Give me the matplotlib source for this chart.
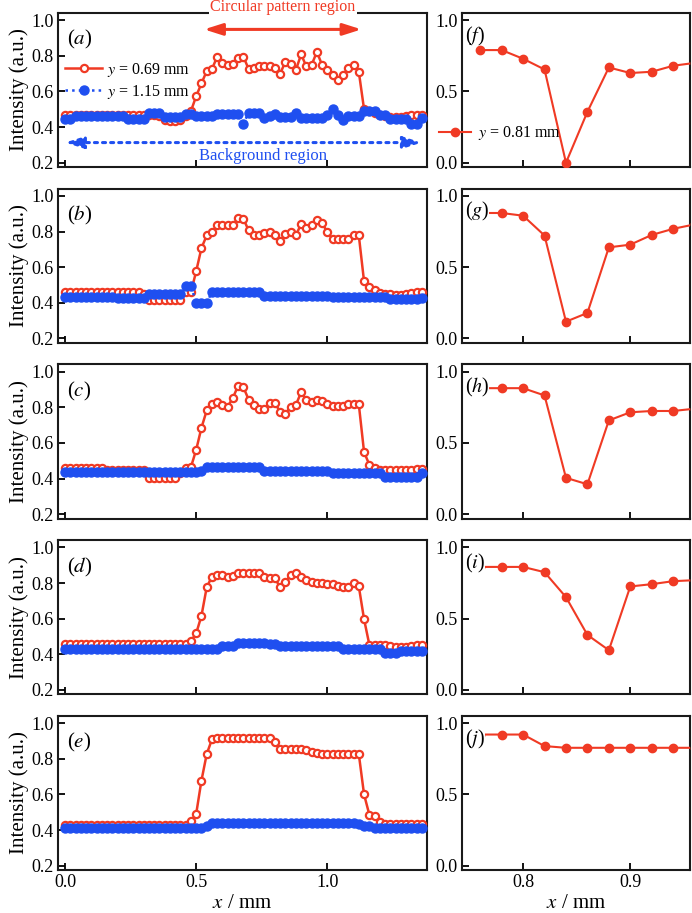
import numpy as np
import matplotlib
matplotlib.use("Agg")
import matplotlib.pyplot as plt

plt.rcParams['font.family'] = ['Liberation Serif', 'DejaVu Serif']
plt.rcParams['mathtext.fontset'] = 'stix'

RED = '#f03a24'
BLUE = '#1f4ff0'

# ---------------- data ----------------
x_left = np.round(np.arange(69) * 0.02, 2)

red_a = [0.47]*17 + [0.465, 0.46, 0.44, 0.435, 0.435, 0.44, 0.46, 0.49] + \
    [0.574, 0.645, 0.714, 0.725, 0.795, 0.757, 0.748, 0.752, 0.785, 0.795, 0.725,
     0.733, 0.74, 0.745, 0.745, 0.733, 0.70, 0.766, 0.752, 0.72, 0.808, 0.74,
     0.748, 0.822, 0.748, 0.72, 0.692, 0.664, 0.692, 0.729, 0.748, 0.71, 0.50] + \
    [0.49, 0.48, 0.47, 0.46, 0.455, 0.455, 0.455, 0.46, 0.47, 0.47, 0.47]
blue_a = [0.443]*2 + [0.462]*10 + [0.443]*4 + [0.48]*3 + [0.455]*4 + [0.475]*2 + \
    [0.46]*4 + [0.475]*5 + [0.42] + [0.48]*3 + [0.45, 0.46, 0.475] + [0.455]*3 + \
    [0.48] + [0.45]*5 + [0.465, 0.50, 0.465, 0.437] + [0.46]*3 + [0.49]*3 + \
    [0.465]*2 + [0.443]*4 + [0.42]*2 + [0.45]

red_b = [0.46]*15 + [0.45] + [0.415]*7 + [0.46, 0.46] + \
    [0.578, 0.707, 0.778, 0.796, 0.834, 0.834, 0.834, 0.834, 0.877, 0.871, 0.806,
     0.781, 0.781, 0.792, 0.80, 0.783, 0.746, 0.787, 0.80, 0.778, 0.843, 0.82,
     0.834, 0.867, 0.848, 0.796, 0.759, 0.759, 0.759, 0.759, 0.778, 0.778, 0.52,
     0.488, 0.47] + \
    [0.455, 0.45, 0.45, 0.445, 0.445, 0.45, 0.455, 0.46, 0.46]
blue_b = [0.432]*10 + [0.425]*6 + [0.45]*7 + [0.494]*2 + [0.40]*3 + [0.46]*10 + \
    [0.437]*13 + [0.43]*11 + [0.419]*6 + [0.425]

red_c = [0.461]*8 + [0.45]*8 + [0.404]*6 + [0.43, 0.46, 0.465] + \
    [0.562, 0.685, 0.782, 0.816, 0.828, 0.81, 0.804, 0.853, 0.922, 0.912, 0.843,
     0.81, 0.791, 0.791, 0.825, 0.825, 0.773, 0.763, 0.804, 0.813, 0.884, 0.843,
     0.832, 0.843, 0.838, 0.816, 0.806, 0.806, 0.806, 0.816, 0.82, 0.816] + \
    [0.549, 0.478, 0.46] + [0.447]*7 + [0.455, 0.455]
blue_c = [0.437]*26 + [0.445] + [0.465]*11 + [0.44]*13 + [0.433]*10 + [0.41]*7 + [0.43]

red_d = [0.456]*23 + [0.46, 0.475] + \
    [0.518, 0.616, 0.776, 0.836, 0.847, 0.847, 0.832, 0.84, 0.859, 0.856, 0.856,
     0.856, 0.856, 0.836, 0.827, 0.827, 0.776, 0.804, 0.847, 0.856, 0.836, 0.819,
     0.804, 0.80, 0.80, 0.794, 0.794, 0.781, 0.776, 0.776, 0.798, 0.781, 0.597] + \
    [0.455, 0.45, 0.45, 0.45, 0.445, 0.44, 0.44, 0.44, 0.445, 0.45, 0.45]
blue_d = [0.432]*30 + [0.447]*3 + [0.466]*6 + [0.457]*2 + [0.447]*12 + [0.432]*8 + \
    [0.405]*3 + [0.42]*5

red_e = [0.431]*24 + [0.45] + [0.492, 0.678, 0.826, 0.909, 0.918] + [0.918]*10 + \
    [0.894] + [0.857]*5 + [0.85, 0.839, 0.83] + [0.826]*8 + \
    [0.60, 0.487, 0.48, 0.444] + [0.435]*8
blue_e = [0.413]*27 + [0.425] + [0.437]*28 + [0.435] + [0.425]*2 + [0.413]*10

x_right = [0.76, 0.78, 0.80, 0.82, 0.84, 0.86, 0.88, 0.90, 0.92, 0.94, 0.96]
right_f = [0.79, 0.79, 0.729, 0.654, 0.0, 0.357, 0.668, 0.629, 0.638, 0.68, 0.70]
right_g = [0.88, 0.88, 0.861, 0.722, 0.118, 0.179, 0.639, 0.658, 0.726, 0.769, 0.80]
right_h = [0.884, 0.884, 0.884, 0.833, 0.255, 0.21, 0.658, 0.715, 0.724, 0.724, 0.74]
right_i = [0.863, 0.863, 0.863, 0.826, 0.651, 0.386, 0.279, 0.726, 0.742, 0.763, 0.77]
right_j = [0.92, 0.92, 0.92, 0.839, 0.827, 0.827, 0.827, 0.827, 0.827, 0.827, 0.827]

left_sets = [(red_a, blue_a, 'a'), (red_b, blue_b, 'b'), (red_c, blue_c, 'c'),
             (red_d, blue_d, 'd'), (red_e, blue_e, 'e')]
right_sets = [(right_f, 'f'), (right_g, 'g'), (right_h, 'h'), (right_i, 'i'), (right_j, 'j')]

left_yticks = [0.2, 0.4, 0.6, 0.8, 1.0]
left_xticks = [0.0, 0.5, 1.0]
right_yticks = [0.0, 0.5, 1.0]
right_xticks = [0.8, 0.9]

# ---------------- layout ----------------
W, H = 692, 913
fig = plt.figure(figsize=(W/100, H/100), dpi=100)
bottoms_px = [167, 342.75, 518.5, 694.25, 870]
h_px = 154
lx0, lw = 58, 369
rx0, rw = 462, 228

def style(ax):
    for s in ax.spines.values():
        s.set_linewidth(1.5)
        s.set_color('#1a1a1a')
    ax.tick_params(direction='in', length=5, width=1.3, labelsize=13,
                   top=False, right=False, pad=3)

for i, ((red, blue, lab), (rvals, rlab)) in enumerate(zip(left_sets, right_sets)):
    b = 1 - bottoms_px[i]/H
    axl = fig.add_axes([lx0/W, b, lw/W, h_px/H])
    axr = fig.add_axes([rx0/W, b, rw/W, h_px/H])
    style(axl); style(axr)

    l1, = axl.plot(x_left, red, '-', color=RED, lw=1.8, marker='o', ms=5.2,
                   mfc='white', mec=RED, mew=1.6, zorder=3)
    l2, = axl.plot(x_left, blue, ':', color=BLUE, lw=1.8, marker='o', ms=6.5,
                   mfc=BLUE, mec=BLUE, zorder=4)
    axl.set_xlim(-0.027, 1.38)
    axl.set_ylim(0.176, 1.04)
    axl.set_yticks(left_yticks)
    axl.set_yticklabels([f'{v:.1f}' for v in left_yticks])
    axl.set_xticks(left_xticks)
    axl.set_ylabel('Intensity (a.u.)', fontsize=15, labelpad=2)
    axl.text(0.025, 0.9, f'(${lab}$)', transform=axl.transAxes, fontsize=15,
             va='top', ha='left')

    r1, = axr.plot(x_right, rvals, '-', color=RED, lw=1.5, marker='o', ms=6,
                   mfc=RED, mec=RED, zorder=3)
    axr.set_xlim(0.743, 0.9557)
    axr.set_ylim(-0.03, 1.05)
    axr.set_yticks(right_yticks)
    axr.set_yticklabels([f'{v:.1f}' for v in right_yticks])
    axr.set_xticks(right_xticks)
    axr.text(0.012, 0.925, f'(${rlab}$)', transform=axr.transAxes, fontsize=14.5,
             va='top', ha='left', zorder=(2 if i == 0 else 5),
             bbox=dict(facecolor='white', edgecolor='none', pad=0.0))

    if i < 4:
        axl.set_xticklabels([])
        axr.set_xticklabels([])
    else:
        axl.set_xticklabels([f'{v:.1f}' for v in left_xticks])
        axr.set_xticklabels([f'{v:.1f}' for v in right_xticks])
        axl.set_xlabel('$x$ / mm', fontsize=15, labelpad=2)
        axr.set_xlabel('$x$ / mm', fontsize=15, labelpad=2)

    if i == 0:
        axl.legend([l1, l2], ['$y$ = 0.69 mm', '$y$ = 1.15 mm'], loc='upper left',
                   bbox_to_anchor=(0.02, 0.69), frameon=False, fontsize=11.5,
                   handlelength=2.3, handletextpad=0.3, labelspacing=0.25,
                   borderpad=0, borderaxespad=0)
        axl.annotate('', xy=(1.13, 0.948), xytext=(0.53, 0.948),
                     arrowprops=dict(arrowstyle='<|-|>,head_length=1.1,head_width=0.35',
                                     color=RED, lw=2.2, shrinkA=0, shrinkB=0))
        axl.text(0.83, 1.072, 'Circular pattern region', color=RED, fontsize=11.5,
                 ha='center', va='center', clip_on=False, zorder=6,
                 bbox=dict(facecolor='white', edgecolor='none', pad=1))
        axl.annotate('', xy=(1.36, 0.313), xytext=(0.0, 0.313),
                     arrowprops=dict(arrowstyle='<|-|>,head_length=1.1,head_width=0.35',
                                     color=BLUE, lw=2.2, ls=':', shrinkA=0, shrinkB=0))
        axl.text(0.755, 0.24, 'Background region', color=BLUE, fontsize=12,
                 ha='center', va='center')
        axr.legend([r1], ['$y$ = 0.81 mm'], loc='center left',
                   bbox_to_anchor=(-0.1, 0.22), frameon=False, fontsize=11.5,
                   handlelength=2.0, handletextpad=0.4, borderpad=0, borderaxespad=0)

fig.savefig('out.png', dpi=100)
